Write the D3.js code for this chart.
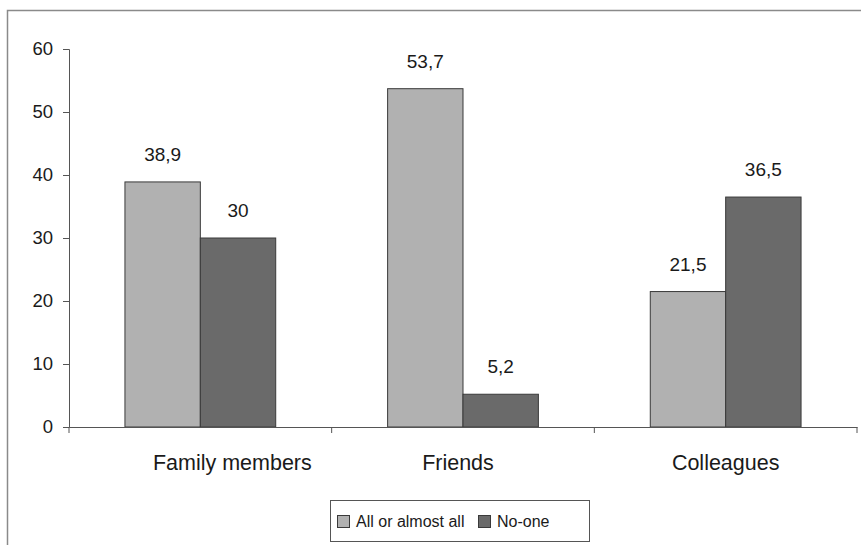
<!DOCTYPE html>
<html>
<head>
<meta charset="utf-8">
<script src="https://cdn.jsdelivr.net/npm/d3@7"></script>
<style>
  html, body { margin: 0; padding: 0; background: #fff; }
  svg { display: block; }
  text { font-family: "Liberation Sans", Arial, sans-serif; fill: #1a1a1a; }
</style>
</head>
<body>
<svg id="chart" width="861" height="545"></svg>
<script>
const categories = ["Family members", "Friends", "Colleagues"];
const seriesNames = ["All or almost all", "No-one"];
const allOrAlmostAll = [38.9, 53.7, 21.5];
const noOne = [30, 5.2, 36.5];
const yTicks = [0, 10, 20, 30, 40, 50, 60];
const colors = ["#b1b1b1", "#6a6a6a"];
// layout only: horizontal nudge of category labels as in the original
const labelNudge = [32, -5, 0];

const svg = d3.select("#chart");
const W = 861, H = 545;

// outer frame (extends past right and bottom edges)
svg.append("rect")
  .attr("x", 7.5).attr("y", 10.5)
  .attr("width", W + 20).attr("height", H + 20)
  .attr("fill", "#fff").attr("stroke", "#8a8a8a").attr("stroke-width", 1.5);

const x0 = d3.scaleBand().domain(categories).range([69, 857]).paddingInner(0).paddingOuter(0);
const bw = x0.bandwidth();
const gap = bw * 0.213;
const x1 = d3.scaleBand().domain(seriesNames).range([gap, bw - gap]).padding(0);
const y = d3.scaleLinear().domain([0, 60]).range([427, 49]);

const data = categories.map((c, i) => ({
  cat: c,
  vals: [
    { s: seriesNames[0], v: allOrAlmostAll[i], c: colors[0] },
    { s: seriesNames[1], v: noOne[i], c: colors[1] }
  ]
}));

// bars
const groups = svg.append("g").selectAll("g").data(data).join("g")
  .attr("transform", d => `translate(${x0(d.cat)},0)`);

groups.selectAll("rect").data(d => d.vals).join("rect")
  .attr("x", d => x1(d.s))
  .attr("y", d => y(d.v))
  .attr("width", x1.bandwidth())
  .attr("height", d => y(0) - y(d.v))
  .attr("fill", d => d.c)
  .attr("stroke", "#3a3a3a")
  .attr("stroke-width", 1);

// value labels
groups.selectAll("text.val").data(d => d.vals).join("text")
  .attr("class", "val")
  .attr("x", d => x1(d.s) + x1.bandwidth() / 2)
  .attr("y", d => y(d.v) - 21)
  .attr("text-anchor", "middle")
  .attr("font-size", 19)
  .text(d => String(d.v).replace(".", ","));

// y axis
const yAxis = d3.axisLeft(y).tickValues(yTicks).tickSize(6).tickPadding(10).tickFormat(d3.format("d"));
const gy = svg.append("g").attr("transform", "translate(69,0)").call(yAxis);
gy.select(".domain").attr("stroke", "#555").attr("stroke-width", 1);
gy.selectAll(".tick line").attr("stroke", "#555");
gy.selectAll(".tick text").attr("font-size", 18.5).attr("fill", "#1a1a1a")
  .attr("font-family", "Liberation Sans, Arial, sans-serif");

// x axis
const xAxis = d3.axisBottom(x0).tickSize(0).tickFormat("");
const gx = svg.append("g").attr("transform", `translate(0,${y(0)})`).call(xAxis);
gx.select(".domain").attr("stroke", "#555").attr("stroke-width", 1);
// category boundary ticks
const bounds = categories.map(c => x0(c)).concat([x0(categories[categories.length - 1]) + bw]);
gx.selectAll("line.bound").data(bounds).join("line")
  .attr("class", "bound")
  .attr("x1", d => d).attr("x2", d => d)
  .attr("y1", 0).attr("y2", 6)
  .attr("stroke", "#555");

// category labels
svg.append("g").selectAll("text").data(categories).join("text")
  .attr("x", (d, i) => x0(d) + bw / 2 + labelNudge[i])
  .attr("y", 470)
  .attr("text-anchor", "middle")
  .attr("font-size", 21.5)
  .text(d => d);

// legend
const lg = svg.append("g");
lg.append("rect").attr("x", 330.5).attr("y", 500.5).attr("width", 259).attr("height", 41)
  .attr("fill", "#fff").attr("stroke", "#555").attr("stroke-width", 1);
const legendX = [337, 478];
const items = lg.selectAll("g.item").data(seriesNames).join("g").attr("class", "item")
  .attr("transform", (d, i) => `translate(${legendX[i]},0)`);
items.append("rect").attr("x", 0.5).attr("y", 515.5).attr("width", 12).attr("height", 12)
  .attr("fill", (d, i) => colors[i]).attr("stroke", "#3a3a3a");
items.append("text").attr("x", 19).attr("y", 527).attr("font-size", 16).text(d => d);
</script>
</body>
</html>
